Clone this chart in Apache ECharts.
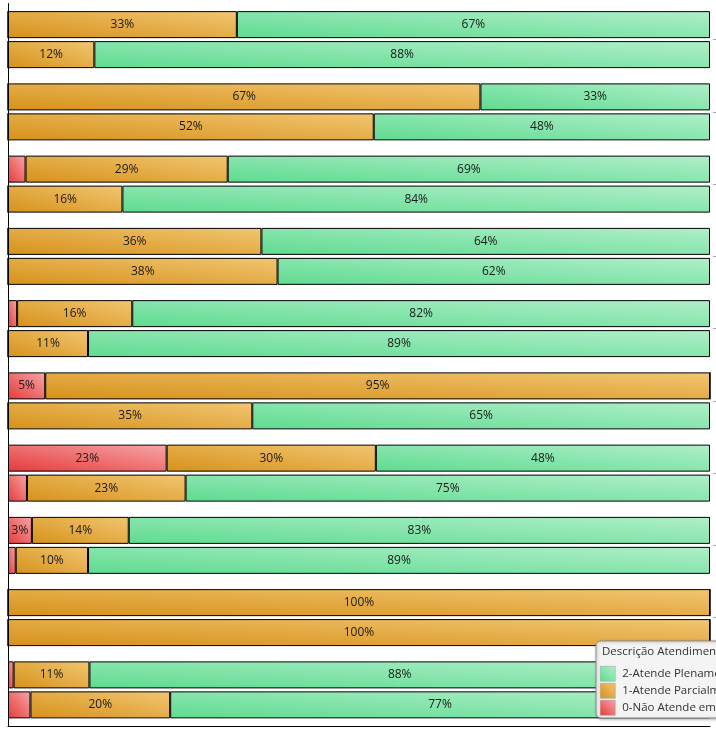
<!DOCTYPE html>
<html>
<head>
<meta charset="utf-8">
<script src="https://cdn.jsdelivr.net/npm/echarts@6/dist/echarts.min.js"></script>
<style>html,body{margin:0;padding:0;background:#fff}#c{width:716px;height:729px}</style>
</head>
<body>
<div id="c"></div>
<script>
// Categories (10 groups, 2 bars each)
const categories = ['1','2','3','4','5','6','7','8','9','10'];
const seriesNames = ['0-Não Atende em Nada', '1-Atende Parcialmente', '2-Atende Plenamente'];
const legendTitle = 'Descrição Atendimento';

// First bar of each group (%)
const redA    = [0,    0,    2.5,  0,    1.3,  5.3,  22.6, 3.4,  0,   0.8];
const orangeA = [32.6, 67.3, 28.8, 36.1, 16.4, 94.7, 29.8, 13.8, 100, 10.8];
const greenA  = [67.4, 32.7, 68.7, 63.9, 82.3, 0,    47.6, 82.8, 0,   88.4];
// Second bar of each group (%)
const redB    = [0,    0,    0,    0,    0,    0,    2.7,  1.1,  0,   3.2];
const orangeB = [12.3, 52.1, 16.3, 38.4, 11.4, 34.8, 22.6, 10.3, 100, 19.9];
const greenB  = [87.7, 47.9, 83.7, 61.6, 88.6, 65.2, 74.7, 88.6, 0,   76.9];

const palette = [['#e63a3a', '#f6a6a8'], ['#d6911a', '#f2c672'], ['#5fdb90', '#b0efca']];
const PLOT_W = 702, BAR_H = 27;

// gradient whose iso-lines follow the shape's anti-diagonal (like a "scaled with shape" diagonal gradient)
function shapeGrad(ci, value) {
  const w = Math.max(1, value / 100 * PLOT_W), h = BAR_H;
  const L2 = w * w + h * h;
  const x2 = 2 * h * h / L2, y2 = 1 - 2 * w * w / L2;
  return new echarts.graphic.LinearGradient(0, 1, x2, y2, [
    {offset: 0, color: palette[ci][0]}, {offset: 1, color: palette[ci][1]}
  ]);
}
function squareGrad(ci) {
  return new echarts.graphic.LinearGradient(0, 1, 1, 0, [
    {offset: 0, color: palette[ci][0]}, {offset: 1, color: palette[ci][1]}
  ]);
}

const label = {
  show: true,
  position: 'inside',
  color: '#1a1a1a',
  fontSize: 12,
  fontFamily: 'Open Sans',
  formatter: p => (p.value >= 3.3 ? Math.round(p.value) + '%' : '')
};

function mk(name, stack, data, ci) {
  return {
    name: name, type: 'bar', stack: stack,
    data: data.map(v => ({value: v, itemStyle: {color: shapeGrad(ci, v)}})),
    barWidth: BAR_H, barGap: '11%', barCategoryGap: '21%',
    itemStyle: {color: squareGrad(ci), borderColor: '#000', borderWidth: 1},
    label: label,
    emphasis: {disabled: true}
  };
}

const series = [
  mk(seriesNames[0], 'a', redA, 0),
  mk(seriesNames[1], 'a', orangeA, 1),
  mk(seriesNames[2], 'a', greenA, 2),
  mk(seriesNames[0], 'b', redB, 0),
  mk(seriesNames[1], 'b', orangeB, 1),
  mk(seriesNames[2], 'b', greenB, 2)
];

const chart = echarts.init(document.getElementById('c'));
chart.setOption({
  animation: false,
  backgroundColor: '#fff',
  grid: {left: 8, right: 6, top: 3.5, bottom: 3},
  xAxis: {
    type: 'value', min: 0, max: 100,
    axisLine: {show: true, lineStyle: {color: '#000', width: 1}},
    axisTick: {show: false}, axisLabel: {show: false}, splitLine: {show: false}
  },
  yAxis: [{
    type: 'category', data: categories, inverse: true,
    axisLine: {show: true, lineStyle: {color: '#000', width: 1}},
    axisTick: {show: false}, axisLabel: {show: false}
  }, {
    type: 'category', data: categories, inverse: true, position: 'right', offset: 3,
    axisLine: {show: false},
    axisTick: {show: true, alignWithLabel: true, length: 3, lineStyle: {color: '#aaa'}},
    axisLabel: {show: false}
  }],
  legend: {
    data: [seriesNames[2], seriesNames[1], seriesNames[0]],
    orient: 'vertical', left: 600, top: 666,
    itemWidth: 15, itemHeight: 15, itemGap: 1.5, padding: 0,
    icon: 'rect', z: 30,
    itemStyle: {borderColor: '#999', borderWidth: 0.5},
    textStyle: {fontSize: 11.5, color: '#333', fontFamily: 'Open Sans', padding: [0, 0, 0, 2]},
    selectedMode: false
  },
  graphic: [{
    type: 'rect', z: 20,
    shape: {x: 596, y: 641, width: 140, height: 77, r: 5},
    style: {fill: '#f4f4f4', stroke: '#8c8c8c', lineWidth: 1,
            shadowBlur: 3, shadowOffsetX: 1, shadowOffsetY: 1, shadowColor: 'rgba(0,0,0,0.3)'}
  }, {
    type: 'text', z: 21, left: 602, top: 646,
    style: {text: legendTitle, fontSize: 11.5, fill: '#333', fontFamily: 'Open Sans'}
  }],
  series: series
});
</script>
</body>
</html>
